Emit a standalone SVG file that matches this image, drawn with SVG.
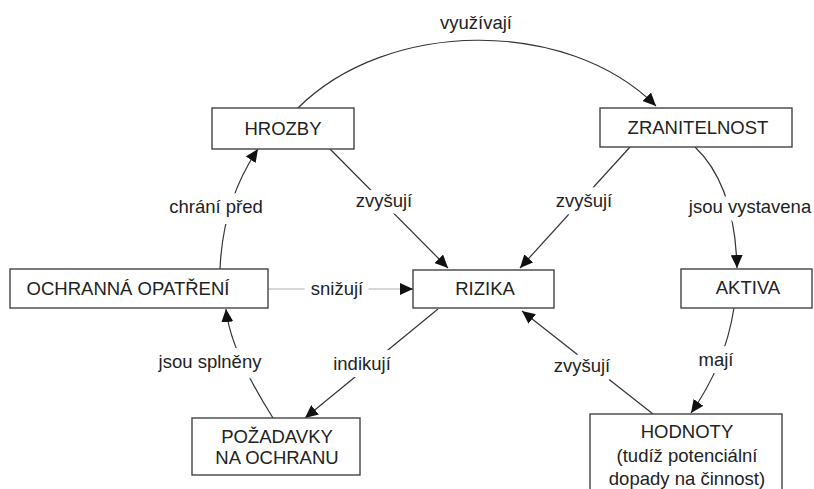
<svg xmlns="http://www.w3.org/2000/svg" width="814" height="489" viewBox="0 0 814 489">
<style>
.box{fill:#fff;stroke:#444;stroke-width:1.4}
.t{font-family:"Liberation Sans",Arial,sans-serif;font-size:18.5px;fill:#222;text-anchor:middle}
.c{fill:none;stroke:#333;stroke-width:1.2}
.g{fill:none;stroke:#c8c8c8;stroke-width:1.4}
.lbl{font-family:"Liberation Sans",Arial,sans-serif;font-size:18.5px;fill:#222;text-anchor:middle;stroke:#fff;stroke-width:14;stroke-linejoin:round;paint-order:stroke}
</style>
<defs>
<marker id="ah" markerUnits="userSpaceOnUse" markerWidth="14" markerHeight="12" viewBox="0 0 14 12" refX="13" refY="6" orient="auto">
<path d="M0,0 L13,6 L0,12 Z" fill="#111"/>
</marker>
</defs>
<rect width="814" height="489" fill="#fff"/>
<g id="connectors">
<path class="c" d="M298,108 C387,19 567,17 656,106" marker-end="url(#ah)"/>
<path class="c" d="M330,149 L448,268" marker-end="url(#ah)"/>
<path class="c" d="M630,147 L520,268" marker-end="url(#ah)"/>
<path class="c" d="M695,147 Q735,185 737,268" marker-end="url(#ah)"/>
<path class="g" d="M268,289 L411,289"/>
<path class="c" d="M400,289 L413,289" marker-end="url(#ah)" stroke="none"/>
<path class="c" d="M220,269 Q223,200 258,149" marker-end="url(#ah)"/>
<path class="c" d="M273,418 Q230,350 226,309" marker-end="url(#ah)"/>
<path class="c" d="M438,309 L305,418" marker-end="url(#ah)"/>
<path class="c" d="M653,414 L522,311" marker-end="url(#ah)"/>
<path class="c" d="M734,308 Q725,365 691,413" marker-end="url(#ah)"/>
<text class="lbl" x="476" y="29">využívají</text>
<text class="lbl" x="384" y="207">zvyšují</text>
<text class="lbl" x="584" y="207">zvyšují</text>
<text class="lbl" x="750" y="213">jsou vystavena</text>
<text class="lbl" x="337" y="295">snižují</text>
<text class="lbl" x="216" y="213">chrání před</text>
<text class="lbl" x="210" y="368">jsou splněny</text>
<text class="lbl" x="362" y="370">indikují</text>
<text class="lbl" x="582" y="372">zvyšují</text>
<text class="lbl" x="716" y="366">mají</text>
</g>
<g id="hrozby">
<rect class="box" x="212" y="108" width="142" height="41"/>
<text class="t" x="283" y="135">HROZBY</text>
</g>
<g id="zranitelnost">
<rect class="box" x="600" y="108" width="192" height="39"/>
<text class="t" x="698" y="134">ZRANITELNOST</text>
</g>
<g id="ochranna">
<rect class="box" x="10" y="269" width="258" height="39"/>
<text class="t" x="128" y="295">OCHRANNÁ OPATŘENÍ</text>
</g>
<g id="rizika">
<rect class="box" x="413" y="270" width="141" height="38"/>
<text class="t" x="485" y="295">RIZIKA</text>
</g>
<g id="aktiva">
<rect class="box" x="681" y="269" width="131" height="39"/>
<text class="t" x="748" y="294">AKTIVA</text>
</g>
<g id="pozadavky">
<rect class="box" x="192" y="418" width="168" height="57"/>
<text class="t" x="277" y="443">POŽADAVKY</text>
<text class="t" x="277" y="464">NA OCHRANU</text>
</g>
<g id="hodnoty">
<rect class="box" x="590" y="414" width="192" height="85"/>
<text class="t" x="687" y="438">HODNOTY</text>
<text class="t" x="687" y="462">(tudíž potenciální</text>
<text class="t" x="687" y="485">dopady na činnost)</text>
</g>
</svg>
